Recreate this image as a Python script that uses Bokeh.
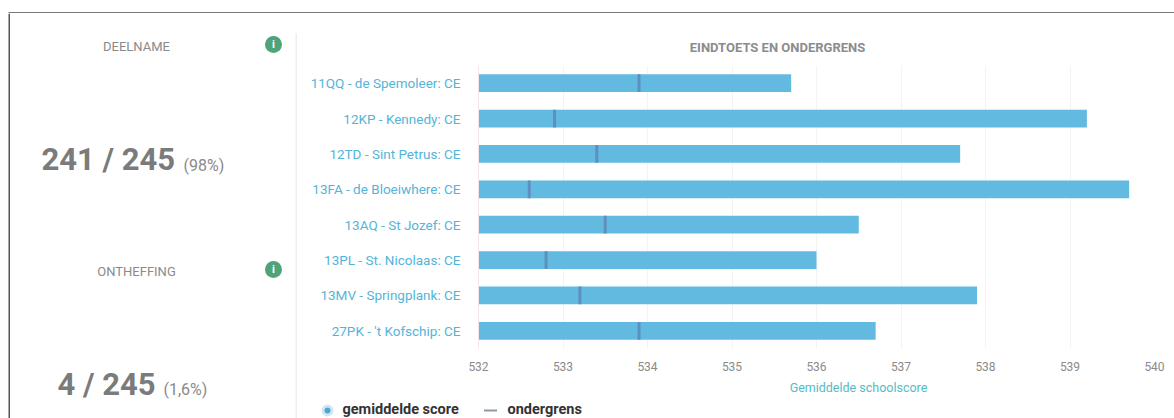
from bokeh.embed import file_html
from bokeh.layouts import column, row
from bokeh.models import FactorRange, Range1d
from bokeh.plotting import figure
from bokeh.resources import INLINE

schools = [
    "11QQ - de Spemoleer: CE",
    "12KP - Kennedy: CE",
    "12TD - Sint Petrus: CE",
    "13FA - de Bloeiwhere: CE",
    "13AQ - St Jozef: CE",
    "13PL - St. Nicolaas: CE",
    "13MV - Springplank: CE",
    "27PK - 't Kofschip: CE",
]
mean_scores = [535.7, 539.2, 537.7, 539.7, 536.5, 536.0, 537.9, 536.7]
lower_limits = [533.9, 532.9, 533.4, 532.6, 533.5, 532.8, 533.2, 533.9]
axis_ticks = [532, 533, 534, 535, 536, 537, 538, 539, 540]
axis_start = 532

FONT = "Roboto"
BAR = "#62bae0"
LIMIT = "#5d90bd"
GREY = "#8a8a8a"
NUMBER = "#7b7b7b"
LABEL_BLUE = "#55b4d8"
BORDER = "#4a4a4a"
GREEN = "#4fa37a"


def pixel_panel(x0, x1, y0, y1):
    """A borderless figure whose data coordinates are page pixels, y downwards."""
    fig = figure(width=x1 - x0, height=y1 - y0, output_backend="svg", toolbar_location=None,
                 x_range=Range1d(x0, x1), y_range=Range1d(y1, y0),
                 x_axis_location=None, y_axis_location=None, min_border=0,
                 border_fill_color="white", background_fill_color="white")
    fig.outline_line_color = None
    fig.grid.visible = False
    return fig


def put_text(fig, x, y, txt, size, color=GREY, align="left", style="normal"):
    fig.text([x], [y], text=[txt], text_font={"value": FONT}, text_font_size={"value": size},
             text_color=color, text_align=align, text_baseline="middle", text_font_style=style)


# Card's top edge
top = pixel_panel(0, 1174, 0, 13)
top.quad(left=8, right=1174, top=11.8, bottom=13, fill_color=BORDER, line_color=None)

# Left panel with the two key figures
left = pixel_panel(0, 297, 13, 418)
left.quad(left=8, right=9.5, top=13, bottom=418, fill_color="#555555", line_color=None)
left.quad(left=295, right=297, top=33, bottom=418, fill_color="#eeeeee", line_color=None)
put_text(left, 136, 46, "DEELNAME", "13px", align="center")
put_text(left, 136, 271, "ONTHEFFING", "13px", align="center")
put_text(left, 41, 159, "241 / 245", "31px", NUMBER, style="bold")
put_text(left, 183, 165, "(98%)", "16px")
put_text(left, 57, 384, "4 / 245", "31px", NUMBER, style="bold")
put_text(left, 163, 389, "(1,6%)", "16px")
left.scatter([273, 273], [44, 269], marker="circle", size=17, fill_color=GREEN, line_color=None)
put_text(left, 273, 44, "i", "11px", "white", align="center", style="bold")
put_text(left, 273, 269, "i", "11px", "white", align="center", style="bold")

# Heading above the bar chart
head = pixel_panel(297, 1174, 13, 59)
put_text(head, 777, 47, "EINDTOETS EN ONDERGRENS", "13px", "#8c8c8c", align="center", style="bold")

# Bar chart of the mean scores and their lower limits
chart = figure(
    width=877, height=316, output_backend="svg", toolbar_location=None,
    x_range=Range1d(532, 540), y_range=FactorRange(factors=schools[::-1]),
    min_border_left=181, min_border_right=20, min_border_top=6, min_border_bottom=27,
    background_fill_color="white", border_fill_color="white",
)
chart.outline_line_color = None

chart.hbar(y=schools, left=axis_start, right=mean_scores, height=0.5,
           fill_color=BAR, line_color=None)
chart.rect(x=lower_limits, y=schools, width=3, width_units="screen", height=0.5,
           fill_color=LIMIT, line_color=None)

chart.xaxis.ticker = axis_ticks
chart.xaxis.axis_line_color = None
chart.xaxis.major_tick_line_color = None
chart.xaxis.minor_tick_line_color = None
chart.xaxis.major_label_text_font = FONT
chart.xaxis.major_label_text_font_size = "12px"
chart.xaxis.major_label_text_color = GREY
chart.xaxis.major_label_standoff = 7

chart.yaxis.axis_line_color = "#f3e6ea"
chart.yaxis.major_tick_line_color = None
chart.yaxis.minor_tick_line_color = None
chart.yaxis.major_label_text_font = FONT
chart.yaxis.major_label_text_font_size = "13.5px"
chart.yaxis.major_label_text_color = LABEL_BLUE
chart.yaxis.major_label_standoff = 12

chart.xgrid.grid_line_color = "#f3f3f3"
chart.ygrid.grid_line_color = None

# Axis caption and legend beneath the chart
foot = pixel_panel(297, 1174, 375, 418)
put_text(foot, 858, 387, "Gemiddelde schoolscore", "12.5px", "#55bcc4", align="center")
foot.scatter([327], [410], marker="circle", size=9, fill_color="#4fa6d3",
             line_color="#cfe6f3", line_width=3)
foot.scatter([490], [410], marker="dash", size=13, line_color="#8f9aa3", line_width=2)
put_text(foot, 342, 408.5, "gemiddelde score", "14.5px", "#333333", style="bold")
put_text(foot, 507, 408.5, "ondergrens", "14.5px", "#333333", style="bold")

# Each panel sits in its own row so that its frame keeps its own left edge
right = column(row(head), row(chart), row(foot), spacing=0)
page = column(top, row(left, right, spacing=0), spacing=0)
open("out.html", "w").write(file_html(page, INLINE))
